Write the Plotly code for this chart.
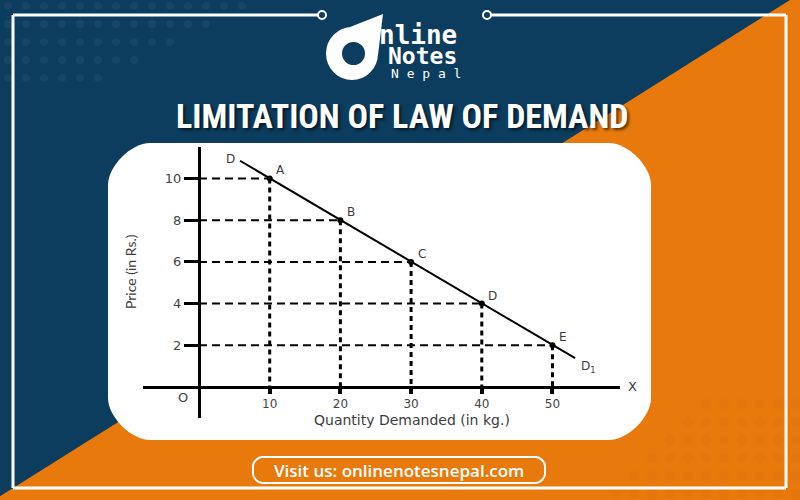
import plotly.graph_objects as go

# ---- data ----
quantity = [10, 20, 30, 40, 50]
price = [10, 8, 6, 4, 2]
point_labels = ["A", "B", "C", "D", "E"]
demand_x = [5.8, 53.2]
demand_y = [10.85, 1.38]
x_ticks = [10, 20, 30, 40, 50]
y_ticks = [2, 4, 6, 8, 10]

W, H = 800, 500
NAVY = "#0c3c5e"
ORANGE = "#e87a0d"
INK = "#3c3c3c"


def px(x):
    return x / W


def py(y):
    return 1 - y / H


def rrect(x0, y0, x1, y1, r):
    k = 0.45 * r
    pts = [
        f"M{px(x0 + r)},{py(y0)}",
        f"L{px(x1 - r)},{py(y0)}",
        f"C{px(x1 - r + k)},{py(y0)} {px(x1)},{py(y0 + r - k)} {px(x1)},{py(y0 + r)}",
        f"L{px(x1)},{py(y1 - r)}",
        f"C{px(x1)},{py(y1 - r + k)} {px(x1 - r + k)},{py(y1)} {px(x1 - r)},{py(y1)}",
        f"L{px(x0 + r)},{py(y1)}",
        f"C{px(x0 + r - k)},{py(y1)} {px(x0)},{py(y1 - r + k)} {px(x0)},{py(y1 - r)}",
        f"L{px(x0)},{py(y0 + r)}",
        f"C{px(x0)},{py(y0 + r - k)} {px(x0 + r - k)},{py(y0)} {px(x0 + r)},{py(y0)}",
        "Z",
    ]
    return " ".join(pts)


fig = go.Figure()

# dashed guide lines
hx, hy, vx, vy = [], [], [], []
for q, p in zip(quantity, price):
    hx += [0, q, None]
    hy += [p, p, None]
    vx += [q, q, None]
    vy += [p, 0, None]

fig.add_trace(go.Scatter(x=hx, y=hy, mode="lines",
                         line=dict(color="black", width=2, dash="8px,5px"),
                         hoverinfo="skip", showlegend=False))
fig.add_trace(go.Scatter(x=vx, y=vy, mode="lines",
                         line=dict(color="black", width=3, dash="5px,4px"),
                         hoverinfo="skip", showlegend=False))
fig.add_trace(go.Scatter(x=demand_x, y=demand_y, mode="lines",
                         line=dict(color="black", width=2),
                         hoverinfo="skip", showlegend=False))
fig.add_trace(go.Scatter(x=quantity, y=price, mode="markers",
                         marker=dict(color="black", size=6),
                         showlegend=False))

shapes = []
# orange triangle
shapes.append(dict(type="path", xref="paper", yref="paper", layer="below",
                   path=f"M{px(790)},{py(0)} L{px(800)},{py(0)} L{px(800)},{py(500)} "
                        f"L{px(-6)},{py(500)} Z",
                   fillcolor=ORANGE, line=dict(width=0)))

# faint dot texture (decoration)
for row in range(5):
    yy = 6 + row * 18
    for col in range(14 - row * 2):
        xx = 8 + col * 18
        shapes.append(dict(type="circle", xref="paper", yref="paper", layer="below",
                           x0=px(xx - 4), x1=px(xx + 4), y0=py(yy + 4), y1=py(yy - 4),
                           fillcolor="rgba(255,255,255,0.05)", line=dict(width=0)))
for row in range(6):
    yy = 494 - row * 18
    for col in range(11 - row):
        xx = 796 - col * 18
        shapes.append(dict(type="circle", xref="paper", yref="paper", layer="below",
                           x0=px(xx - 5), x1=px(xx + 5), y0=py(yy + 5), y1=py(yy - 5),
                           fillcolor="rgba(150,60,0,0.06)", line=dict(width=0)))

# white frame with gap for logo
frame_lines = [
    (13, 15, 318, 15), (491, 15, 786, 15), (786, 15, 786, 488),
    (13, 488, 786, 488), (13, 15, 13, 488),
]
for x0, y0, x1, y1 in frame_lines:
    shapes.append(dict(type="line", xref="paper", yref="paper", layer="below",
                       x0=px(x0), y0=py(y0), x1=px(x1), y1=py(y1),
                       line=dict(color="white", width=3)))
for cx in (322, 487):
    shapes.append(dict(type="circle", xref="paper", yref="paper", layer="below",
                       x0=px(cx - 4), x1=px(cx + 4), y0=py(19), y1=py(11),
                       line=dict(color="white", width=2), fillcolor=NAVY))
# logo ring
shapes.append(dict(type="path", xref="paper", yref="paper", layer="below",
                   path=f"M{px(350)},{py(27)} L{px(383)},{py(14)} L{px(378)},{py(55)} Z",
                   fillcolor="white", line=dict(width=0)))
shapes.append(dict(type="circle", xref="paper", yref="paper", layer="below",
                   x0=px(326), x1=px(378), y0=py(80), y1=py(27),
                   fillcolor="white", line=dict(width=0)))
shapes.append(dict(type="circle", xref="paper", yref="paper", layer="below",
                   x0=px(342), x1=px(365), y0=py(65), y1=py(42),
                   fillcolor=NAVY, line=dict(width=0)))
# white chart card
shapes.append(dict(type="path", xref="paper", yref="paper", layer="below",
                   path=rrect(108, 143, 651, 440, 42),
                   fillcolor="white", line=dict(width=0)))
# bottom button
shapes.append(dict(type="path", xref="paper", yref="paper", layer="below",
                   path=rrect(253, 457, 545, 483, 9),
                   fillcolor="rgba(0,0,0,0)", line=dict(color="white", width=2)))

annotations = []
for q, p, lab in zip(quantity, price, point_labels):
    annotations.append(dict(x=q, y=p, xref="x", yref="y", text=lab, showarrow=False,
                            xshift=11, yshift=8,
                            font=dict(family="DejaVu Sans", size=12, color=INK)))
annotations.append(dict(x=demand_x[0], y=demand_y[0], xref="x", yref="y", text="D",
                        showarrow=False, xshift=-10, yshift=2,
                        font=dict(family="DejaVu Sans", size=12, color=INK)))
annotations.append(dict(x=demand_x[1], y=demand_y[1], xref="x", yref="y",
                        text="D<sub>1</sub>", showarrow=False, xshift=13, yshift=-9,
                        font=dict(family="DejaVu Sans", size=12, color=INK)))


def ptext(x, y, text, size, color=INK, family="DejaVu Sans", xanchor="center",
          angle=0, weight="normal", shadow=None):
    f = dict(family=family, size=size, color=color, weight=weight)
    if shadow:
        f["shadow"] = shadow
    return dict(x=px(x), y=py(y), xref="paper", yref="paper", text=text,
                showarrow=False, xanchor=xanchor, yanchor="middle",
                textangle=angle, font=f)


annotations += [
    ptext(632, 386, "X", 13),
    ptext(183, 397, "O", 13),
    ptext(412, 420, "Quantity Demanded (in kg.)", 14),
    ptext(130, 272, "Price (in Rs.)", 14, angle=-90, family="Lato"),
    ptext(402, 116, "LIMITATION OF LAW OF DEMAND", 34, color="white",
          family="Liberation Sans Narrow, Roboto Condensed, Roboto", weight="bold",
          shadow="2px 2px 3px rgba(0,0,0,0.6)"),
    ptext(399, 470, "Visit us: onlinenotesnepal.com", 17, color="white",
          family="Open Sans", weight=600),
    ptext(377, 35, "nline", 26, color="white", family="DejaVu Sans Mono",
          xanchor="left", weight="bold"),
    ptext(386, 56, "Notes", 23, color="white", family="DejaVu Sans Mono",
          xanchor="left", weight="bold"),
    ptext(389, 73, "N e p a l", 13, color="white", family="DejaVu Sans Mono",
          xanchor="left"),
]

fig.update_layout(
    width=W, height=H,
    margin=dict(l=0, r=0, t=0, b=0),
    paper_bgcolor=NAVY,
    plot_bgcolor="rgba(0,0,0,0)",
    shapes=shapes,
    annotations=annotations,
    showlegend=False,
    xaxis=dict(
        domain=[px(143), px(620)], range=[-7.92, 59.55],
        anchor="free", position=py(387),
        showgrid=False, zeroline=False,
        showline=True, linecolor="black", linewidth=3,
        ticks="outside", ticklen=5, tickwidth=4, tickcolor="black",
        tickvals=x_ticks, ticktext=[str(v) for v in x_ticks],
        tickfont=dict(family="DejaVu Sans", size=12, color="#444"),
    ),
    yaxis=dict(
        domain=[py(418), py(147)], range=[-1.487, 11.51],
        anchor="free", position=px(199),
        showgrid=False, zeroline=False,
        showline=True, linecolor="black", linewidth=3,
        ticks="outside", ticklen=14, tickwidth=3, tickcolor="black",
        tickvals=y_ticks, ticktext=[str(v) for v in y_ticks],
        tickfont=dict(family="DejaVu Sans", size=13, color="#444"),
    ),
)

fig.write_html("out.html",
               config={"displayModeBar": False},
               post_script="document.body.style.margin='0';document.body.style.overflow='hidden';")
